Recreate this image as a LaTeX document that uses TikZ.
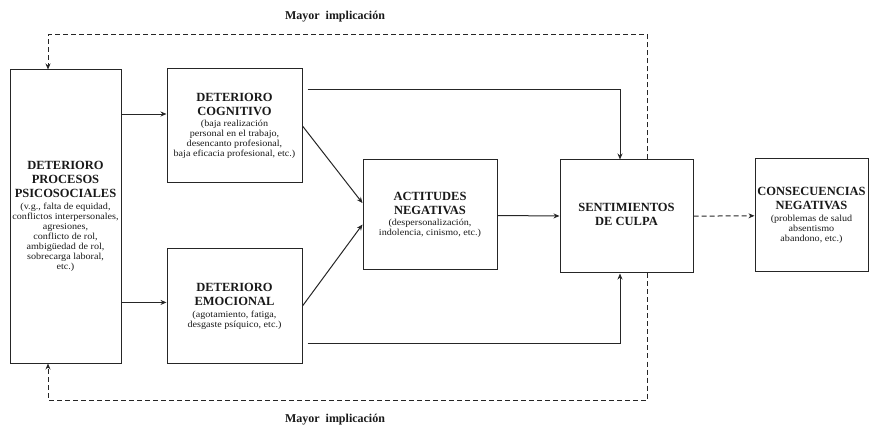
\documentclass[tikz,border=0pt]{standalone}
\usepackage{fontspec}
\usetikzlibrary{arrows.meta}
\setmainfont{Liberation Serif}
\newfontfamily\detfont[FakeStretch=1.1]{Liberation Serif}
\newcommand{\tit}{\rmfamily\fontsize{12.5}{15}\selectfont\bfseries\rule[-4.5pt]{0pt}{11pt}}
\newcommand{\detalle}{\detfont\fontsize{9.2}{10}\selectfont}
\begin{document}
\begin{tikzpicture}[>={Stealth[length=6pt,width=5pt]},x=1pt,y=-1pt,
  caja/.style={draw=black!85,line width=1pt,align=center,inner sep=2pt,text=black!90,font=\detalle},
  flecha/.style={->,line width=1pt,black!85},
  retro/.style={->,line width=1pt,black!85,dash pattern=on 5pt off 3pt}]
\useasboundingbox (0,0) rectangle (881,430);
% cajas
\node[caja,minimum width=111pt,minimum height=293pt] (psico) at (65.5,216.5)
  {\tit DETERIORO\\\tit PROCESOS\\\tit PSICOSOCIALES\\(v.g., falta de equidad,\\conflictos interpersonales,\\agresiones,\\conflicto de rol,\\ambigüedad de rol,\\sobrecarga laboral,\\etc.)};
\node[caja,minimum width=135pt,minimum height=114pt] (cogn) at (234.5,126)
  {\tit DETERIORO\\\tit COGNITIVO\\(baja realización\\personal en el trabajo,\\desencanto profesional,\\baja eficacia profesional, etc.)};
\node[caja,minimum width=135pt,minimum height=114pt] (emoc) at (234.5,306)
  {\tit DETERIORO\\\tit EMOCIONAL\\(agotamiento, fatiga,\\desgaste psíquico, etc.)};
\node[caja,minimum width=134pt,minimum height=110pt] (actit) at (430,215)
  {\tit ACTITUDES\\\tit NEGATIVAS\\(despersonalización,\\indolencia, cinismo, etc.)};
\node[caja,minimum width=133pt,minimum height=113pt] (sent) at (626.5,216.5)
  {\tit SENTIMIENTOS\\\tit DE CULPA};
\node[caja,minimum width=113pt,minimum height=113pt] (conse) at (811.5,215.5)
  {\tit CONSECUENCIAS\\\tit NEGATIVAS\\(problemas de salud\\absentismo\\abandono, etc.)};
% flechas
\draw[flecha] (psico.east |- cogn.170) -- (cogn.170);
\draw[flecha] (psico.east |- emoc.177) -- (emoc.177);
\draw[flecha] (cogn.east) -- (actit.170);
\draw[flecha] (emoc.east) -- (actit.188);
\draw[flecha] (actit) -- (sent);
\draw[flecha] ([xshift=5pt]cogn.28) -| ([xshift=-6.5pt]sent.north);
\draw[flecha] ([xshift=5pt]emoc.-29) -| ([xshift=-6.5pt]sent.south);
\draw[retro] (sent) -- (conse);
% retroalimentacion
\coordinate (fbtop) at (48,35);
\coordinate (fbbot) at (48,400);
\draw[retro] ([xshift=20.5pt]sent.north) |- (fbtop) -- (fbtop |- psico.north);
\draw[retro] ([xshift=20.5pt]sent.south) |- (fbbot) -- (fbbot |- psico.south);
\node[font=\bfseries\fontsize{12}{14}\selectfont,text=black!90] (lbltop) at (335,17) {Mayor\ \ implicación};
\node[font=\bfseries\fontsize{12}{14}\selectfont,text=black!90] (lblbot) at (335,420) {Mayor\ \ implicación};
\end{tikzpicture}
\end{document}
